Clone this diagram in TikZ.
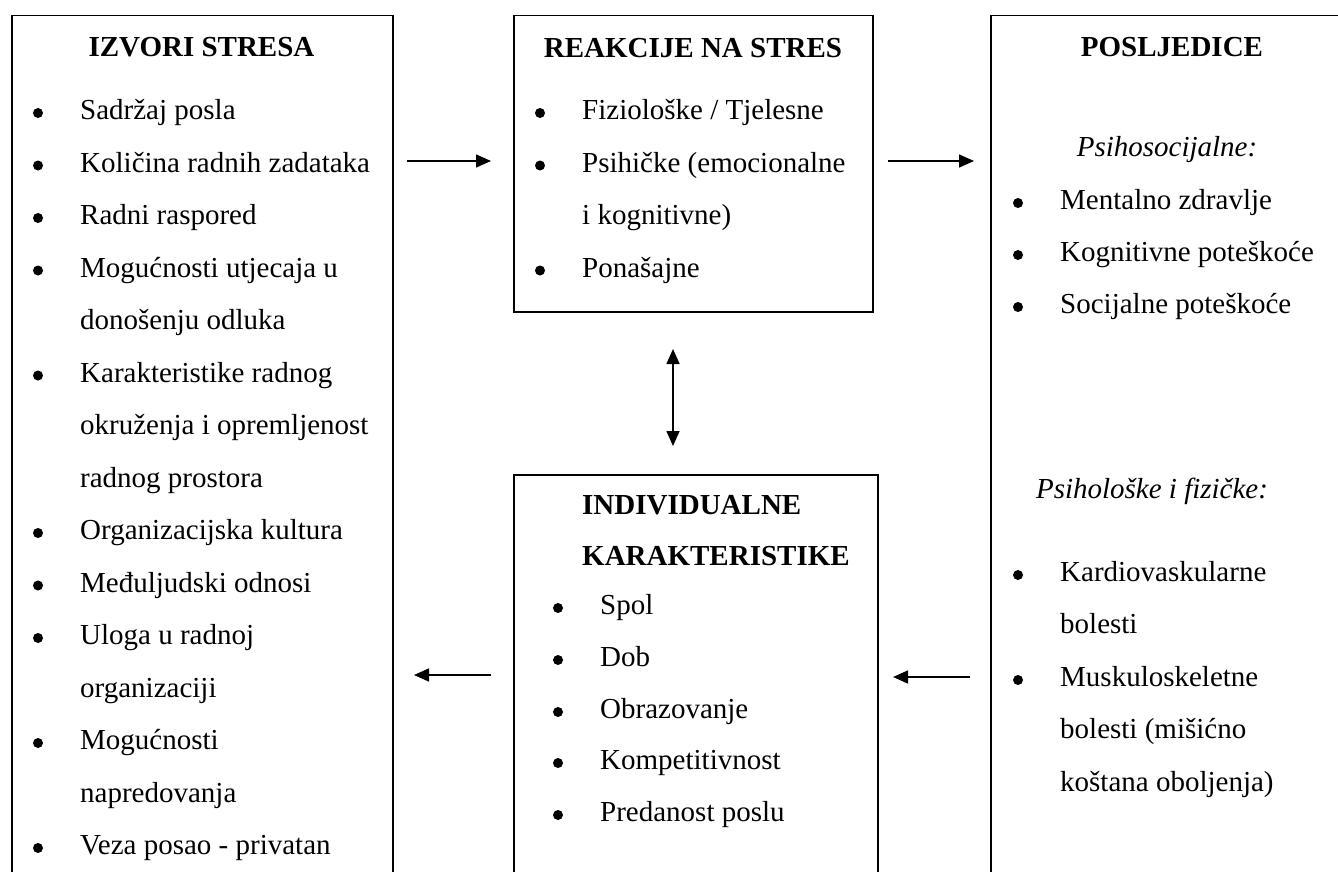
\documentclass[tikz,border=0pt]{standalone}
\usepackage{fontspec}
\setmainfont{Liberation Serif}
\usetikzlibrary{arrows.meta}
\newcommand\myfs{\fontsize{29}{35}\selectfont}
\begin{document}
\begin{tikzpicture}[x=1pt,y=-1pt,
  box/.style={draw, line width=1.5pt, inner sep=0pt, anchor=north west},
  txt/.style={anchor=base west, inner sep=0pt, font=\myfs, yshift=-6.7pt},
  hd/.style={anchor=center, inner sep=0pt, font=\myfs\bfseries},
  hdl/.style={anchor=west, inner sep=0pt, font=\myfs\bfseries},
  sub/.style={anchor=base, inner sep=0pt, font=\myfs\itshape, yshift=-6.7pt},
  bul/.style={circle, fill=black, inner sep=0pt, minimum size=10pt},
  arr/.style={line width=1.6pt, -{Triangle[length=15pt,width=13pt]}},
  darr/.style={line width=1.6pt, {Triangle[length=15pt,width=13pt]}-{Triangle[length=15pt,width=13pt]}}
]
\useasboundingbox (0,0) rectangle (1338,872);
\clip (0,0) rectangle (1338,872);
\fill[white] (0,0) rectangle (1338,872);

% boxes
\node[box, minimum width=381pt, minimum height=900pt] (izvori) at (11,15) {};
\node[box, minimum width=359pt, minimum height=296pt] (reakcije) at (513,15) {};
\node[box, minimum width=364pt, minimum height=450pt] (indiv) at (513,474) {};
\node[box, minimum width=380pt, minimum height=900pt] (posljedice) at (990,15) {};

% left box
\node[hd] (h1) at (201.5,47) {IZVORI STRESA};
\node[bul] (b1) at (38,113) {};   \node[txt] (t1) at (80,113) {Sadržaj posla};
\node[bul] (b2) at (38,165.5) {}; \node[txt] (t2) at (80,165.5) {Količina radnih zadataka};
\node[bul] (b3) at (38,218) {};   \node[txt] (t3) at (80,218) {Radni raspored};
\node[bul] (b4) at (38,270.5) {}; \node[txt] (t4) at (80,270.5) {Mogućnosti utjecaja u};
\node[txt] (t5) at (80,323) {donošenju odluka};
\node[bul] (b6) at (38,375.5) {}; \node[txt] (t6) at (80,375.5) {Karakteristike radnog};
\node[txt] (t7) at (80,428) {okruženja i opremljenost};
\node[txt] (t8) at (80,480.5) {radnog prostora};
\node[bul] (b9) at (38,533) {};   \node[txt] (t9) at (80,533) {Organizacijska kultura};
\node[bul] (b10) at (38,585.5) {}; \node[txt] (t10) at (80,585.5) {Međuljudski odnosi};
\node[bul] (b11) at (38,638) {};   \node[txt] (t11) at (80,638) {Uloga u radnoj};
\node[txt] (t12) at (80,690.5) {organizaciji};
\node[bul] (b13) at (38,743) {};   \node[txt] (t13) at (80,743) {Mogućnosti};
\node[txt] (t14) at (80,795.5) {napredovanja};
\node[bul] (b15) at (38,848) {};   \node[txt] (t15) at (80,848) {Veza posao - privatan};

% middle top box
\node[hd] (h2) at (693,48) {REAKCIJE NA STRES};
\node[bul] (r1b) at (540,113) {};   \node[txt] (r1) at (582,113) {Fiziološke / Tjelesne};
\node[bul] (r2b) at (540,165.5) {}; \node[txt] (r2) at (582,165.5) {Psihičke (emocionalne};
\node[txt] (r3) at (582,218) {i kognitivne)};
\node[bul] (r4b) at (540,270.5) {}; \node[txt] (r4) at (582,270.5) {Ponašajne};

% middle bottom box
\node[hdl] (h3) at (582,505) {INDIVIDUALNE};
\node[hdl] (h3b) at (582,556) {KARAKTERISTIKE};
\node[bul] (i1b) at (558,608) {};   \node[txt] (i1) at (600,608) {Spol};
\node[bul] (i2b) at (558,660) {};   \node[txt] (i2) at (600,660) {Dob};
\node[bul] (i3b) at (558,712) {};   \node[txt] (i3) at (600,712) {Obrazovanje};
\node[bul] (i4b) at (558,763) {};   \node[txt] (i4) at (600,763) {Kompetitivnost};
\node[bul] (i5b) at (558,815) {};   \node[txt] (i5) at (600,815) {Predanost poslu};

% right box
\node[hd] (h4) at (1172,47) {POSLJEDICE};
\node[sub] (s1) at (1167,150) {Psihosocijalne:};
\node[bul] (p1b) at (1018,203) {};  \node[txt] (p1) at (1060,203) {Mentalno zdravlje};
\node[bul] (p2b) at (1018,255) {};  \node[txt] (p2) at (1060,255) {Kognitivne poteškoće};
\node[bul] (p3b) at (1018,307) {};  \node[txt] (p3) at (1060,307) {Socijalne poteškoće};
\node[sub] (s2) at (1152,492) {Psihološke i fizičke:};
\node[bul] (p4b) at (1018,575) {};  \node[txt] (p4) at (1060,575) {Kardiovaskularne};
\node[txt] (p5) at (1060,627) {bolesti};
\node[bul] (p6b) at (1018,680) {};  \node[txt] (p6) at (1060,680) {Muskuloskeletne};
\node[txt] (p7) at (1060,732) {bolesti (mišićno};
\node[txt] (p8) at (1060,785) {koštana oboljenja)};

% arrows
\coordinate (a1s) at (407,161); \coordinate (a1e) at (491,161);
\coordinate (a2s) at (888,161); \coordinate (a2e) at (974,161);
\coordinate (a3s) at (673,349); \coordinate (a3e) at (673,446);
\coordinate (a4s) at (491,675); \coordinate (a4e) at (414,675);
\coordinate (a5s) at (970,677); \coordinate (a5e) at (893,677);
\draw[arr] (a1s) -- (a1e);
\draw[arr] (a2s) -- (a2e);
\draw[darr] (a3s) -- (a3e);
\draw[arr] (a4s) -- (a4e);
\draw[arr] (a5s) -- (a5e);
\end{tikzpicture}
\end{document}
